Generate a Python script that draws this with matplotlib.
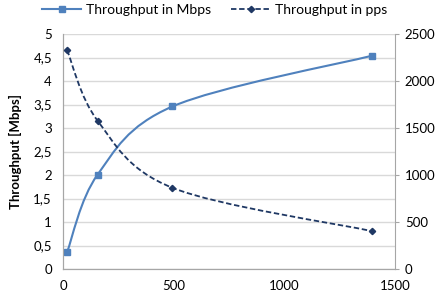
import numpy as np
import matplotlib.pyplot as plt
from matplotlib.path import Path
from matplotlib.patches import PathPatch
from matplotlib.lines import Line2D

plt.rcParams['font.family'] = ['Lato', 'DejaVu Sans']

pkt_size = [18, 156, 494, 1396]
mbps = [0.36, 2.01, 3.46, 4.54]
pps = [2330, 1578, 865, 404]

x_ticks = [0, 500, 1000, 1500]
left_ticks = [0, 0.5, 1, 1.5, 2, 2.5, 3, 3.5, 4, 4.5, 5]
left_labels = ['0', '0,5', '1', '1,5', '2', '2,5', '3', '3,5', '4', '4,5', '5']
right_ticks = [0, 500, 1000, 1500, 2000, 2500]

blue = '#4F81BD'
navy = '#1F3864'


def smooth_path(xs, ys, sx, sy):
    # excel-like smoothed line: cubic bezier through the points
    p = np.column_stack([np.array(xs) * sx, np.array(ys) * sy])
    verts = [p[0]]
    codes = [Path.MOVETO]
    n = len(p)
    for i in range(n - 1):
        p0 = p[max(i - 1, 0)]
        p1 = p[i]
        p2 = p[i + 1]
        p3 = p[min(i + 2, n - 1)]
        c1 = p1 + (p2 - p0) / 6
        c2 = p2 - (p3 - p1) / 6
        verts += [c1, c2, p2]
        codes += [Path.CURVE4] * 3
    verts = np.array(verts) / [sx, sy]
    return Path(verts, codes)


fig = plt.figure(figsize=(4.38, 2.99), dpi=100)
ax = fig.add_axes([0.144, 0.100, 0.758, 0.786])
ax2 = ax.twinx()

ax.set_xlim(0, 1500)
ax.set_ylim(0, 5)
ax2.set_ylim(0, 2500)

ax.add_patch(PathPatch(smooth_path(pkt_size, mbps, 332 / 1500, 235 / 5),
                       fill=False, edgecolor=blue, lw=1.5, zorder=3))
ax.plot(pkt_size, mbps, ls='none', marker='s', ms=4, color=blue, zorder=4)

ax2.add_patch(PathPatch(smooth_path(pkt_size, pps, 332 / 1500, 235 / 2500),
                        fill=False, edgecolor=navy, lw=1.3, ls=(0, (3, 1.5)), zorder=3))
ax2.plot(pkt_size, pps, ls='none', marker='D', ms=3.2, color=navy, zorder=4)

ax.set_xticks(x_ticks)
ax.set_yticks(left_ticks)
ax.set_yticklabels(left_labels)
ax2.set_yticks(right_ticks)

ax.grid(axis='y', color='#D9D9D9', lw=1)
ax.set_axisbelow(True)
for a in (ax, ax2):
    for s in a.spines.values():
        s.set_color('#A6A6A6')
    a.spines['top'].set_visible(False)
ax.spines['right'].set_visible(False)
ax.tick_params(axis='both', length=0, labelsize=9.5, colors='black', pad=8)
ax.tick_params(axis='x', pad=8)
ax2.tick_params(axis='y', length=3, direction='out', color='#A6A6A6', labelsize=9.5, pad=4)

ax.set_ylabel('Throughput [Mbps]', fontsize=9.5, fontweight='bold', labelpad=8)

handles = [Line2D([], [], color=blue, lw=1.5, marker='s', ms=4),
           Line2D([], [], color=navy, lw=1.3, ls=(0, (3, 1.5)), marker='D', ms=3.2)]
fig.legend(handles, ['Throughput in Mbps', 'Throughput in pps'], loc='upper center',
           bbox_to_anchor=(0.49, 1.03), ncol=2, frameon=False, fontsize=10,
           handlelength=2.8, columnspacing=1.5, handletextpad=0.3)

fig.savefig('out.png', dpi=100)
